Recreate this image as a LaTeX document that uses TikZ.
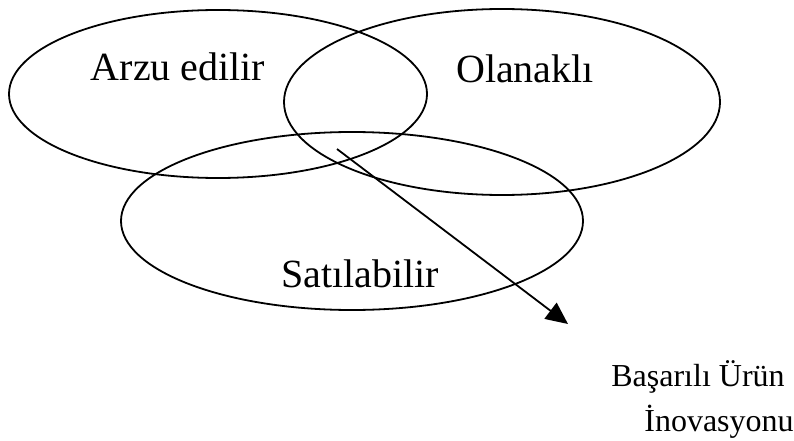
\documentclass[tikz,border=0pt]{standalone}
\usepackage{fontspec}
\setmainfont{Liberation Serif}
\usetikzlibrary{arrows.meta}
\begin{document}
\begin{tikzpicture}[x=1pt,y=-1pt,
  ring/.style={draw=black,line width=1.8pt},
  lbl/.style={anchor=base,inner sep=0pt,font=\fontsize{40}{46}\selectfont},
  outlbl/.style={anchor=base,inner sep=0pt,font=\fontsize{32}{38}\selectfont},
  arr/.style={line width=1.8pt,-{Triangle[length=22pt,width=20pt]}}]
\useasboundingbox (0,0) rectangle (794,441);
\draw[ring] (218,94) ellipse [x radius=209, y radius=84];
\draw[ring] (502,102) ellipse [x radius=218, y radius=93];
\draw[ring] (352,221) ellipse [x radius=231, y radius=89];
\node[lbl] (arzu) at (178,81) {Arzu edilir};
\node[lbl] (olan) at (525,83) {Olanaklı};
\node[lbl] (sat) at (360,287) {Satılabilir};
\node[outlbl] (bas) at (698,386) {Başarılı Ürün};
\node[outlbl] (ino) at (719,431) {İnovasyonu};
\coordinate (s) at (337,149);
\coordinate (t) at (568,324);
\draw[arr] (s) -- (t);
\end{tikzpicture}
\end{document}
